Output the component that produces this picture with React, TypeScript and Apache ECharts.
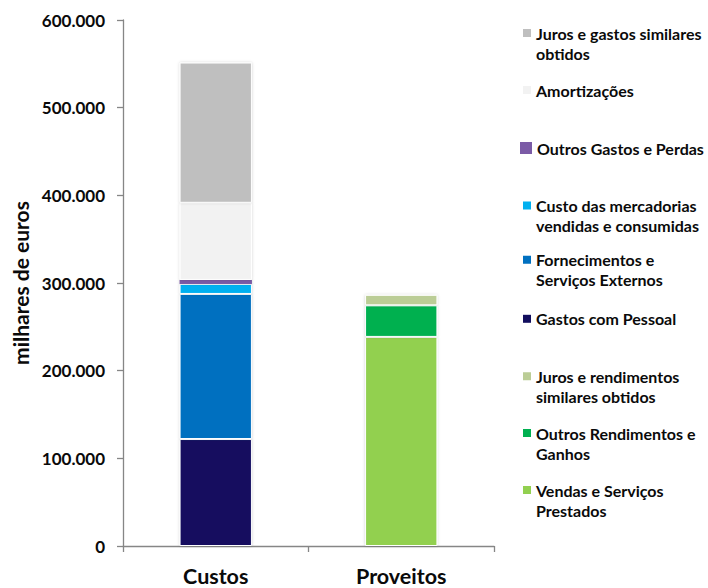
import React, { useEffect, useRef } from "react";
import * as echarts from "echarts";

// ---- data ----
const categories = ["Custos", "Proveitos"];

const costNames = [
  "Gastos com Pessoal",
  "Fornecimentos e Serviços Externos",
  "Custo das mercadorias vendidas e consumidas",
  "Outros Gastos e Perdas",
  "Amortizações",
  "Juros e gastos similares obtidos",
];
const costValues = [122000, 165500, 11500, 4500, 88000, 160000];

const incomeNames = [
  "Vendas e Serviços Prestados",
  "Outros Rendimentos e Ganhos",
  "Juros e rendimentos similares obtidos",
];
const incomeValues = [238500, 36000, 12000];

const legendOrder = [
  "Juros e gastos similares obtidos",
  "Amortizações",
  "Outros Gastos e Perdas",
  "Custo das mercadorias vendidas e consumidas",
  "Fornecimentos e Serviços Externos",
  "Gastos com Pessoal",
  "Juros e rendimentos similares obtidos",
  "Outros Rendimentos e Ganhos",
  "Vendas e Serviços Prestados",
];
const legendLabels = [
  ["Juros e gastos similares", "obtidos"],
  ["Amortizações"],
  ["Outros Gastos e Perdas"],
  ["Custo das mercadorias", "vendidas e consumidas"],
  ["Fornecimentos e", "Serviços Externos"],
  ["Gastos com Pessoal"],
  ["Juros e rendimentos", "similares obtidos"],
  ["Outros Rendimentos e", "Ganhos"],
  ["Vendas e Serviços", "Prestados"],
];

const yMin = 0;
const yMax = 600000;
const yInterval = 100000;
const yAxisTitle = "milhares de euros";

// ---- styles ----
const costColors = ["#120E5E", "#0070C0", "#00B0F0", "#7B5BA6", "#F2F2F2", "#BFBFBF"];
const incomeColors = ["#92D050", "#00B050", "#BBCD96"];
const FONT = "Lato, 'DejaVu Sans', sans-serif";
const TEXT = "#0A0A0A";
const legendIconCenters = [33, 90, 148, 205.5, 259.7, 318.8, 376.3, 433, 490];
const LINE_H = 20;
// square placed at the top of a taller icon box so it lines up with the first text line
const TOP_SQUARE_ICON = "path://M0,0L8,0L8,8L0,8ZM0,27.98L0.02,27.98L0.02,28L0,28Z";

function fmt(v: number): string {
  return String(Math.round(v)).replace(/\B(?=(\d{3})+(?!\d))/g, ".");
}

export default function App() {
  const ref = useRef<HTMLDivElement>(null);

  useEffect(() => {
    if (!ref.current) return;
    const chart = echarts.init(ref.current, null, { renderer: "svg" });

    const barCommon = {
      type: "bar" as const,
      stack: "total",
      barWidth: "39%",
    };

    const series: any[] = [];
    costNames.forEach((n, i) => {
      const isPurple = n === "Outros Gastos e Perdas";
      series.push({
        ...barCommon,
        name: n,
        data: [costValues[i], null],
        itemStyle: {
          color: costColors[i],
          borderColor: isPurple ? costColors[i] : "#FFFFFF",
          borderWidth: isPurple ? 1.5 : 1,
          shadowBlur: 3,
          shadowColor: "rgba(0,0,0,0.18)",
        },
      });
    });
    incomeNames.forEach((n, i) => {
      series.push({
        ...barCommon,
        name: n,
        data: [null, incomeValues[i]],
        itemStyle: {
          color: incomeColors[i],
          borderColor: "#FFFFFF",
          borderWidth: 1,
          shadowBlur: 3,
          shadowColor: "rgba(0,0,0,0.18)",
        },
      });
    });

    const legends = legendOrder.map((name, i) => {
      const lines = legendLabels[i];
      const isPurple = name === "Outros Gastos e Perdas";
      const twoLine = lines.length > 1;
      return {
        show: true,
        data: [name],
        orient: "vertical" as const,
        left: isPurple ? 520 : 523,
        top: legendIconCenters[i] - 10,
        padding: 0,
        itemWidth: isPurple ? 12 : 8,
        itemHeight: isPurple ? 12 : twoLine ? 28 : 8,
        icon: twoLine ? TOP_SQUARE_ICON : "rect",
        itemGap: 0,
        selectedMode: false,
        itemStyle: { borderWidth: 0, shadowBlur: 0 },
        formatter: () => lines.join("\n"),
        textStyle: {
          fontFamily: FONT,
          fontWeight: "bold" as const,
          fontSize: 16,
          lineHeight: LINE_H,
          color: TEXT,
        },
      };
    });

    chart.setOption({
      animation: false,
      backgroundColor: "#FFFFFF",
      textStyle: { fontFamily: FONT },
      grid: { left: 123, right: 214, top: 20, bottom: 42, containLabel: false },
      legend: legends,
      xAxis: {
        type: "category",
        data: categories,
        axisLine: { show: true, lineStyle: { color: "#868686", width: 1.3 } },
        axisTick: { show: true, length: 6, alignWithLabel: false, lineStyle: { color: "#868686", width: 1.3 } },
        axisLabel: {
          margin: 19,
          fontFamily: FONT,
          fontWeight: "bold",
          fontSize: 21.5,
          color: TEXT,
        },
        splitLine: { show: false },
      },
      yAxis: {
        type: "value",
        min: yMin,
        max: yMax,
        interval: yInterval,
        name: yAxisTitle,
        nameLocation: "middle",
        nameRotate: 90,
        nameGap: 92,
        nameTextStyle: {
          fontFamily: FONT,
          fontWeight: "bold",
          fontSize: 21,
          color: TEXT,
        },
        axisLine: { show: true, lineStyle: { color: "#868686", width: 1.3 } },
        axisTick: { show: true, length: 6, inside: false, lineStyle: { color: "#868686", width: 1.3 } },
        axisLabel: {
          margin: 18,
          fontFamily: FONT,
          fontWeight: "bold",
          fontSize: 17,
          color: TEXT,
          formatter: (v: number) => fmt(v),
        },
        splitLine: { show: false },
      },
      series,
    });

    return () => chart.dispose();
  }, []);

  return (
    <div
      ref={ref}
      style={{ position: "fixed", left: 0, top: 0, width: 708, height: 588, background: "#fff" }}
    />
  );
}
